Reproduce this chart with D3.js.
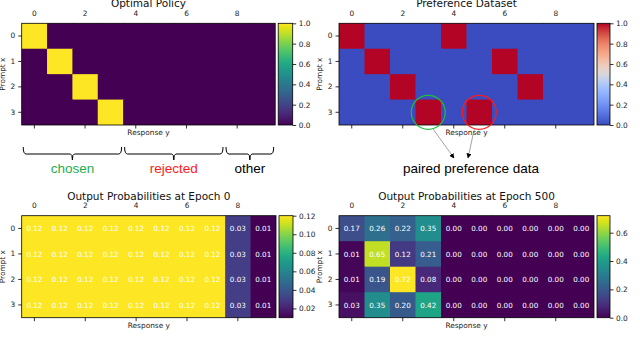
<!DOCTYPE html>
<html>
<head>
<meta charset="utf-8">
<script src="https://cdn.jsdelivr.net/npm/d3@7"></script>
<style>
  html, body { margin: 0; padding: 0; background: #fff; }
  svg { display: block; }
</style>
</head>
<body>
<div id="chart"></div>
<script>
// data
const responses = [0, 1, 2, 3, 4, 5, 6, 7, 8, 9];
const prompts = [0, 1, 2, 3];
const xTickVals = [0, 2, 4, 6, 8];

const optimalPolicy = [
  [1, 0, 0, 0, 0, 0, 0, 0, 0, 0],
  [0, 1, 0, 0, 0, 0, 0, 0, 0, 0],
  [0, 0, 1, 0, 0, 0, 0, 0, 0, 0],
  [0, 0, 0, 1, 0, 0, 0, 0, 0, 0]
];
const preferenceData = [
  [1, 0, 0, 0, 1, 0, 0, 0, 0, 0],
  [0, 1, 0, 0, 0, 0, 1, 0, 0, 0],
  [0, 0, 1, 0, 0, 0, 0, 1, 0, 0],
  [0, 0, 0, 1, 0, 1, 0, 0, 0, 0]
];
const probsEpoch0 = [
  [0.12, 0.12, 0.12, 0.12, 0.12, 0.12, 0.12, 0.12, 0.03, 0.01],
  [0.12, 0.12, 0.12, 0.12, 0.12, 0.12, 0.12, 0.12, 0.03, 0.01],
  [0.12, 0.12, 0.12, 0.12, 0.12, 0.12, 0.12, 0.12, 0.03, 0.01],
  [0.12, 0.12, 0.12, 0.12, 0.12, 0.12, 0.12, 0.12, 0.03, 0.01]
];
const probsEpoch500 = [
  [0.17, 0.26, 0.22, 0.35, 0.00, 0.00, 0.00, 0.00, 0.00, 0.00],
  [0.01, 0.65, 0.12, 0.21, 0.00, 0.00, 0.00, 0.00, 0.00, 0.00],
  [0.01, 0.19, 0.72, 0.08, 0.00, 0.00, 0.00, 0.00, 0.00, 0.00],
  [0.03, 0.35, 0.20, 0.42, 0.00, 0.00, 0.00, 0.00, 0.00, 0.00]
];
const cbarTicksUnit = [0, 0.2, 0.4, 0.6, 0.8, 1.0];
const cbarTicksEpoch0 = [0.02, 0.04, 0.06, 0.08, 0.10, 0.12];
const cbarTicksEpoch500 = [0, 0.2, 0.4, 0.6];

// response groups under the optimal policy
const groupLabels = ['chosen', 'rejected', 'other'];
const groupFrom = [0, 4, 8];
const groupTo = [3, 7, 9];
const groupColors = ['#1fae4b', '#ff1a1a', '#000000'];

// paired preference highlighted in the dataset (prompt 3)
const pairPrompt = 3;
const pairResponses = [3, 5];
const pairColors = ['#1fbf3a', '#ff1a1a'];

// matplotlib coolwarm, sampled
const coolwarmStops = ['#3b4cc0', '#5571df', '#6f92f3', '#8db0fe', '#aac7fd', '#dddcdc',
  '#f2cbb7', '#f7a889', '#ee8468', '#d65244', '#b40426'];
const interpolateCoolwarm = d3.interpolateRgbBasis(coolwarmStops);

const W = 640, H = 348;
const FONT = 'DejaVu Sans, sans-serif';
const svg = d3.select('#chart').append('svg').attr('width', W).attr('height', H);
svg.append('rect').attr('width', W).attr('height', H).attr('fill', '#fff');
const defs = svg.append('defs');

let gradId = 0;
function heatmap(cfg) {
  const { x0, y0, w, h, cbarW, title, data, interp, domain, cbarTicks, cbarFmt, annotate } = cfg;
  const g = svg.append('g');
  const x = d3.scaleBand().domain(responses).range([x0, x0 + w]);
  const y = d3.scaleBand().domain(prompts).range([y0, y0 + h]);
  const color = d3.scaleSequential(interp).domain(domain);

  const cells = [];
  data.forEach((row, r) => row.forEach((v, c) => cells.push({ r, c, v })));

  // overlap each cell by a pixel so no seams show between them
  g.selectAll('rect.cell').data(cells).join('rect').attr('class', 'cell')
    .attr('x', d => x(d.c)).attr('y', d => y(d.r))
    .attr('width', d => x.bandwidth() + (d.c < responses.length - 1 ? 1 : 0))
    .attr('height', d => y.bandwidth() + (d.r < prompts.length - 1 ? 1 : 0))
    .attr('fill', d => color(d.v));

  if (annotate) {
    g.selectAll('text.val').data(cells).join('text').attr('class', 'val')
      .attr('x', d => x(d.c) + x.bandwidth() / 2).attr('y', d => y(d.r) + y.bandwidth() / 2)
      .attr('dy', '0.36em').attr('text-anchor', 'middle')
      .attr('fill', '#fff').attr('font-size', 7.2).attr('font-family', FONT)
      .text(d => d3.format('.2f')(d.v));
  }

  g.append('rect').attr('x', x0).attr('y', y0).attr('width', w).attr('height', h)
    .attr('fill', 'none').attr('stroke', '#000').attr('stroke-width', 0.8);

  // x: labels on top, tick marks at bottom
  const top = g.append('g').attr('transform', `translate(0,${y0})`)
    .call(d3.axisTop(x).tickValues(xTickVals).tickSize(0).tickPadding(7.3));
  const bot = g.append('g').attr('transform', `translate(0,${y0 + h})`)
    .call(d3.axisBottom(x).tickValues(xTickVals).tickSize(3.5).tickFormat(''));
  const left = g.append('g').attr('transform', `translate(${x0},0)`)
    .call(d3.axisLeft(y).tickSize(3.5).tickPadding(3));
  [top, bot, left].forEach(a => {
    a.select('.domain').remove();
    a.selectAll('line').attr('stroke', '#000').attr('stroke-width', 0.8);
    a.selectAll('text').attr('fill', '#222').attr('font-size', 7.4).attr('font-family', FONT);
  });

  g.append('text').attr('x', x0 + w / 2).attr('y', y0 - 16)
    .attr('text-anchor', 'middle').attr('font-size', 10.5).attr('font-family', FONT).attr('fill', '#111')
    .text(title);
  g.append('text').attr('x', x0 + w / 2).attr('y', y0 + h + 10)
    .attr('text-anchor', 'middle').attr('font-size', 7.4).attr('font-family', FONT).attr('fill', '#222')
    .text('Response y');
  g.append('text').attr('transform', `translate(${x0 - 16.7},${y0 + h / 2}) rotate(-90)`)
    .attr('text-anchor', 'middle').attr('font-size', 7.4).attr('font-family', FONT).attr('fill', '#222')
    .text('Prompt x');

  // colorbar
  const cx = x0 + w + 3;
  const cy = d3.scaleLinear().domain(domain).range([y0 + h, y0]);
  const id = 'grad' + (gradId++);
  const grad = defs.append('linearGradient').attr('id', id)
    .attr('x1', 0).attr('y1', 1).attr('x2', 0).attr('y2', 0);
  d3.range(0, 1.0001, 0.05).forEach(t => {
    grad.append('stop').attr('offset', t).attr('stop-color', interp(t));
  });
  g.append('rect').attr('x', cx).attr('y', y0).attr('width', cbarW).attr('height', h)
    .attr('fill', `url(#${id})`).attr('stroke', '#000').attr('stroke-width', 0.8);
  const ca = g.append('g').attr('transform', `translate(${cx + cbarW},0)`)
    .call(d3.axisRight(cy).tickValues(cbarTicks).tickSize(3.5).tickPadding(2.5).tickFormat(d3.format(cbarFmt)));
  ca.select('.domain').remove();
  ca.selectAll('line').attr('stroke', '#000').attr('stroke-width', 0.8);
  ca.selectAll('text').attr('fill', '#222').attr('font-size', 7.4).attr('font-family', FONT);

  return { x, y, g };
}

const tl = heatmap({ x0: 21.7, y0: 23.3, w: 253.5, h: 101.7, cbarW: 14.5, title: 'Optimal Policy',
  data: optimalPolicy, interp: d3.interpolateViridis, domain: [0, 1], cbarTicks: cbarTicksUnit, cbarFmt: '.1f' });
const tr = heatmap({ x0: 339, y0: 23.3, w: 255, h: 101.7, cbarW: 13, title: 'Preference Dataset',
  data: preferenceData, interp: interpolateCoolwarm, domain: [0, 1], cbarTicks: cbarTicksUnit, cbarFmt: '.1f' });
heatmap({ x0: 21.7, y0: 215.7, w: 254.3, h: 102, cbarW: 14, title: 'Output Probabilities at Epoch 0',
  data: probsEpoch0, interp: d3.interpolateViridis, domain: d3.extent(probsEpoch0.flat()),
  cbarTicks: cbarTicksEpoch0, cbarFmt: '.2f', annotate: true });
heatmap({ x0: 339, y0: 215.7, w: 255, h: 102, cbarW: 13, title: 'Output Probabilities at Epoch 500',
  data: probsEpoch500, interp: d3.interpolateViridis, domain: d3.extent(probsEpoch500.flat()),
  cbarTicks: cbarTicksEpoch500, cbarFmt: '.1f', annotate: true });

// brackets under the optimal policy
const bTop = 147, bMid = 154, bTip = 160, labelY = 168;
groupLabels.forEach((lab, i) => {
  const xa = tl.x(groupFrom[i]) + 1.5;
  const xb = tl.x(groupTo[i]) + tl.x.bandwidth() - 1.5;
  const xm = (xa + xb) / 2;
  svg.append('path')
    .attr('d', `M${xa},${bTop} Q${xa},${bMid} ${xa + 3},${bMid} L${xm - 2},${bMid} Q${xm},${bMid} ${xm},${bTip} ` +
      `Q${xm},${bMid} ${xm + 2},${bMid} L${xb - 3},${bMid} Q${xb},${bMid} ${xb},${bTop}`)
    .attr('fill', 'none').attr('stroke', '#000').attr('stroke-width', 1);
  svg.append('text').attr('x', xm).attr('y', labelY).attr('dy', '0.35em')
    .attr('text-anchor', 'middle').attr('font-family', 'Liberation Sans, Arial, sans-serif')
    .attr('font-size', 13.5).attr('fill', groupColors[i]).text(lab);
});

// circles on the preference pair + arrows to the caption
defs.append('marker').attr('id', 'arrowhead').attr('viewBox', '0 0 10 10')
  .attr('refX', 9).attr('refY', 5).attr('markerWidth', 5).attr('markerHeight', 5)
  .attr('markerUnits', 'userSpaceOnUse').attr('orient', 'auto')
  .append('path').attr('d', 'M0,0 L10,5 L0,10 z').attr('fill', '#000');

const capX = 471, capY = 168;
const arrowEnds = [capX - 17, capX - 3];
pairResponses.forEach((c, i) => {
  const cxp = tr.x(c) + tr.x.bandwidth() / 2;
  const cyp = tr.y(pairPrompt) + tr.y.bandwidth() / 2;
  svg.append('circle').attr('cx', cxp).attr('cy', cyp).attr('r', 17)
    .attr('fill', 'none').attr('stroke', pairColors[i]).attr('stroke-width', 1.2);
  const sx = cxp + (i === 0 ? 5 : -5);
  svg.append('line').attr('x1', sx).attr('y1', cyp + 17)
    .attr('x2', arrowEnds[i]).attr('y2', capY - 10)
    .attr('stroke', '#666').attr('stroke-width', 0.6).attr('marker-end', 'url(#arrowhead)');
});
svg.append('text').attr('x', capX).attr('y', capY).attr('dy', '0.35em')
  .attr('text-anchor', 'middle').attr('font-family', 'Liberation Sans, Arial, sans-serif')
  .attr('font-size', 13.5).attr('fill', '#000').text('paired preference data');
</script>
</body>
</html>
